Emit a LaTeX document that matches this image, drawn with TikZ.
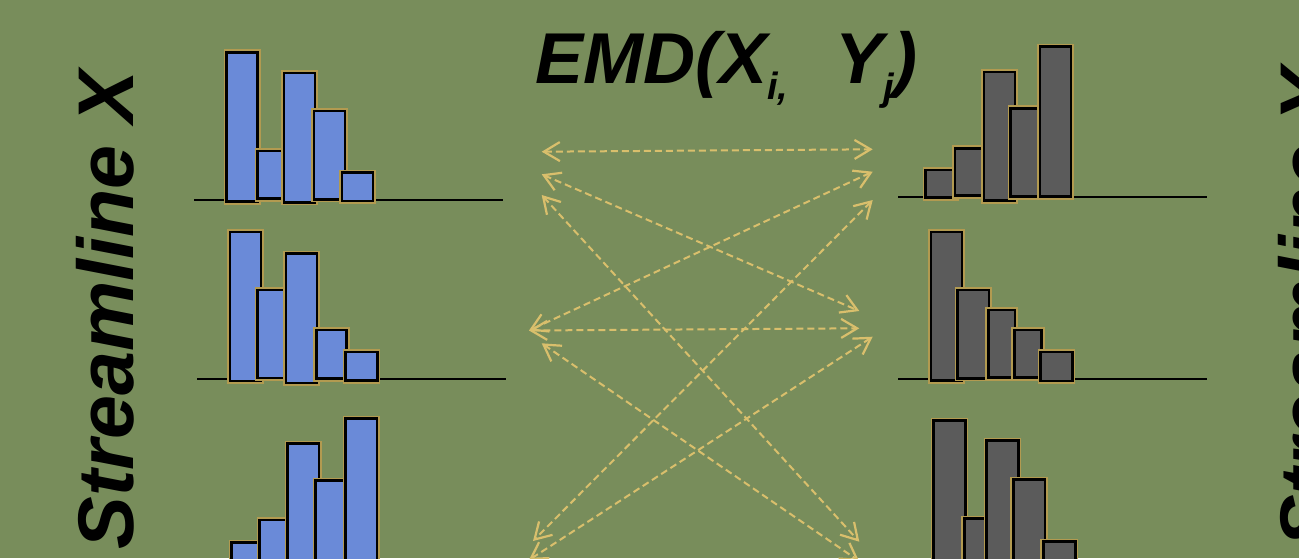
\documentclass[tikz,border=0pt]{standalone}
\usepackage{fontspec}
\setmainfont{Liberation Sans}
\usetikzlibrary{arrows.meta}
\definecolor{bggreen}{RGB}{120,141,91}
\definecolor{barblue}{RGB}{106,138,216}
\definecolor{bargray}{RGB}{91,91,91}
\definecolor{bargold}{RGB}{178,154,80}
\definecolor{arrgold}{RGB}{217,191,108}

\begin{document}
\begin{tikzpicture}[x=1pt, y=-1pt,
    barx/.style={fill=barblue, draw=black, line width=2.6pt, preaction={draw=bargold, line width=6pt}},
    bary/.style={fill=bargray, draw=black, line width=2.6pt, preaction={draw=bargold, line width=6pt}},
    axis/.style={draw=black, line width=2.8pt},
    arr/.style={{Straight Barb[length=16pt,width=19pt,line width=2.2pt]}-{Straight Barb[length=16pt,width=19pt,line width=2.2pt]}, arrgold, line width=2pt, dash pattern=on 7pt off 4pt},
    lbl/.style={inner sep=0pt, font=\fontsize{79}{79}\selectfont\bfseries\itshape}
]
\useasboundingbox (0,0) rectangle (1299,558);
\clip (0,0) rectangle (1299,558);
\fill[bggreen] (0,0) rectangle (1299,558);

\node[lbl, rotate=90, anchor=base] (strx) at (133,310) {Streamline X};
\node[lbl, rotate=90, anchor=base] (stry) at (1335,308) {Streamline Y};
\node[inner sep=0pt, anchor=base west, font=\fontsize{72}{72}\selectfont\bfseries\itshape] (emd) at (535,83)
  {EMD(X\raisebox{-16pt}{\fontsize{38}{38}\selectfont i,}\hspace{47pt}Y\raisebox{-17pt}{\fontsize{38}{38}\selectfont j})};

\draw[axis] (194,200) -- (503,200);
\draw[axis] (197,379) -- (506,379);
\draw[axis] (898,197) -- (1207,197);
\draw[axis] (898,379) -- (1207,379);

\foreach \xa/\xb/\yt/\yb in {226.7/257.7/52.3/201.7, 257.7/283.3/151/198.7, 284/315/73/202.3, 314/345/111/199.3, 342/373/172.7/201}
  \draw[barx] (\xa,\yt) rectangle (\xb,\yb);
\foreach \xa/\xb/\yt/\yb in {230/261/232/381, 257.7/289/290/378, 286/317/253.7/383, 316.3/346.7/330/378.7, 345.7/377.3/352/380.7}
  \draw[barx] (\xa,\yt) rectangle (\xb,\yb);
\foreach \xa/\xb/\yt in {231.7/262.7/542.7, 259.7/288.3/520, 287.7/319/443.7, 315.7/347/480.7, 345.7/377/418.7}
  \draw[barx] (\xa,\yt) rectangle (\xb,570);

\foreach \xa/\xb/\yt/\yb in {925.7/956.3/170/197.7, 955/984.3/148.3/195.7, 984/1015/72/200.7, 1010.7/1041.7/108.3/196.7, 1040/1071/46.7/196.7}
  \draw[bary] (\xa,\yt) rectangle (\xb,\yb);
\foreach \xa/\xb/\yt/\yb in {931/962/232/380.7, 957.7/989/290/378.3, 988.3/1015/310/377.7, 1014.3/1041.7/330/377.7, 1040.7/1072.3/352/381}
  \draw[bary] (\xa,\yt) rectangle (\xb,\yb);
\foreach \xa/\xb/\yt in {933.7/965.3/420.7, 964.3/986.7/518.7, 986.7/1018.3/440.7, 1013.3/1045/479.7, 1043.3/1075.3/541.7}
  \draw[bary] (\xa,\yt) rectangle (\xb,570);

\coordinate (xa1) at (541.7,151.7);
\coordinate (xa2) at (541.7,174.3);
\coordinate (xa3) at (541.7,195);
\coordinate (xb1) at (529,330.5);
\coordinate (xb3) at (541.7,343.3);
\coordinate (xc1) at (533,541);
\coordinate (xc2) at (529,560);
\coordinate (ya1) at (872.7,149.3);
\coordinate (ya2) at (872.7,171.7);
\coordinate (ya3) at (872.7,200);
\coordinate (yb1) at (859.3,311);
\coordinate (yb2) at (859.3,328.3);
\coordinate (yb3) at (872.7,336.7);
\coordinate (yc1) at (859.3,541.7);
\coordinate (yc2) at (859,561);

\draw[arr] (xa1) -- (ya1);
\draw[arr] (xa2) -- (yb1);
\draw[arr] (xa3) -- (yc1);
\draw[arr] (ya2) -- (xb1);
\draw[arr] (xb1) -- (yb2);
\draw[arr] (xb3) -- (yc2);
\draw[arr] (ya3) -- (xc1);
\draw[arr] (yb3) -- (xc2);
\end{tikzpicture}
\end{document}
